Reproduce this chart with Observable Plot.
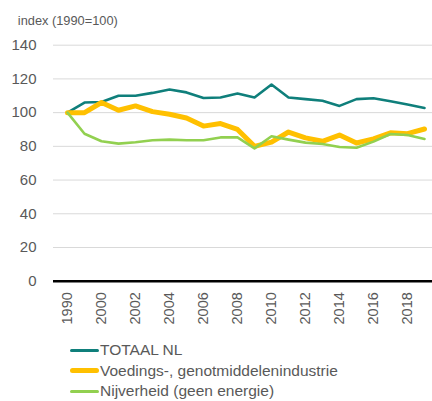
<!DOCTYPE html>
<html>
<head>
<meta charset="utf-8">
<script src="https://cdn.jsdelivr.net/npm/d3@7"></script>
<script src="https://cdn.jsdelivr.net/npm/@observablehq/plot@0.6"></script>
<style>
  html, body { margin: 0; padding: 0; background: #fff; }
  body { width: 432px; height: 401px; overflow: hidden; font-family: "Liberation Sans", Arial, sans-serif; }
  #legend { padding-top: 4px; padding-left: 70px; }
  .row { display: flex; align-items: center; height: 20.5px; color: #595959; font-size: 15.5px; }
  .sw { width: 29px; border-radius: 3px; margin-right: 1px; }
</style>
</head>
<body>
<div id="chart"></div>
<div id="legend"></div>
<script>
const years = ["1990","1995","2000","2001","2002","2003","2004","2005","2006","2007","2008","2009","2010","2011","2012","2013","2014","2015","2016","2017","2018","2019"];
const tickYears = ["1990","2000","2002","2004","2006","2008","2010","2012","2014","2016","2018"];
const seriesNames = ["TOTAAL NL", "Voedings-, genotmiddelenindustrie", "Nijverheid (geen energie)"];
const totaal = [100, 106, 106.3, 110, 110, 111.7, 113.7, 112, 108.7, 109, 111.3, 109, 116.7, 109, 108, 107, 104, 108, 108.5, 106.7, 104.8, 102.8];
const voeding = [100, 100, 106, 101.4, 104, 100.6, 99, 96.8, 92, 93.5, 90, 80, 82.5, 88.5, 85, 83, 86.7, 82, 84.4, 88, 87.5, 90.3];
const nijverheid = [100, 87.5, 83, 81.6, 82.4, 83.6, 84, 83.6, 83.6, 85.3, 85.3, 78.8, 86, 84, 82.2, 81.4, 79.6, 79.2, 82.8, 87.3, 86.7, 84.4];
const yTicks = [0, 20, 40, 60, 80, 100, 120, 140];
const colors = ["#0f7f7b", "#ffc000", "#92d050"];
const widths = [2.6, 5, 2.6];

const seriesValues = [totaal, voeding, nijverheid];
const data = seriesValues.flatMap((vals, s) => vals.map((v, i) => ({year: years[i], value: v, series: seriesNames[s]})));

const grey = "#595959";
const chart = Plot.plot({
  width: 432,
  height: 336,
  marginLeft: 53,
  marginRight: -6.6,
  marginTop: 44.7,
  marginBottom: 55.3,
  style: {fontFamily: "Liberation Sans, Arial, sans-serif", color: grey, overflow: "hidden", background: "#fff"},
  x: {type: "point", domain: years, padding: 0.4545},
  y: {domain: [0, 140]},
  marks: [
    Plot.gridY(yTicks, {stroke: "#d9d9d9", strokeOpacity: 1, strokeWidth: 1}),
    Plot.axisY(yTicks, {tickSize: 0, tickPadding: 17, fontSize: 15, fill: grey, label: null}),
    Plot.axisX(tickYears, {tickSize: 0, tickPadding: 11, tickRotate: -90, fontSize: 14.5, fill: grey, label: null}),
    ...seriesNames.map((name, s) => Plot.line(data.filter(d => d.series === name), {
      x: "year", y: "value", stroke: colors[s], strokeWidth: widths[s],
      strokeLinejoin: "round", strokeLinecap: "round"
    })),
    Plot.ruleY([0], {stroke: "#000", strokeWidth: 2.6}),
    Plot.text(["index (1990=100)"], {frameAnchor: "top-left", dx: -35.7, dy: -20, textAnchor: "start", lineAnchor: "bottom", fontSize: 12.8, fill: grey})
  ]
});
document.getElementById("chart").appendChild(chart);

const legend = document.getElementById("legend");
seriesNames.forEach((name, s) => {
  const row = document.createElement("div");
  row.className = "row";
  const sw = document.createElement("span");
  sw.className = "sw";
  sw.style.height = widths[s] + "px";
  sw.style.background = colors[s];
  const label = document.createElement("span");
  label.textContent = name;
  row.appendChild(sw);
  row.appendChild(label);
  legend.appendChild(row);
});
</script>
</body>
</html>
